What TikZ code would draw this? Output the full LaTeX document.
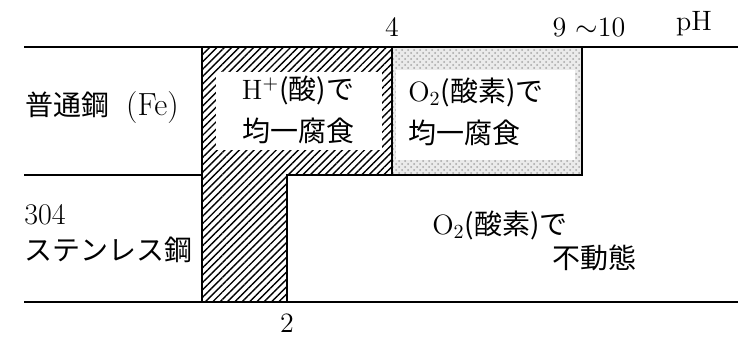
\documentclass[tikz,border=0pt]{standalone}
\usepackage{fontspec}
\newfontfamily\jp{Noto Sans CJK JP}
\usetikzlibrary{patterns,patterns.meta,positioning}

\begin{document}
\begin{tikzpicture}[x=0.5pt, y=-0.5pt,
    lbl/.style={inner sep=0pt, font=\fontsize{14}{21}\selectfont},
    jlbl/.style={lbl, font=\jp\fontsize{14}{21}\selectfont},
    hatch/.style={pattern={Lines[angle=45, distance=2.6pt, line width=0.7pt]}},
    stipple/.style={pattern=crosshatch dots, pattern color=black!35},
    rule/.style={draw=black, line width=0.8pt}
]
    \useasboundingbox (0,0) rectangle (738,338);
    % axis lines
    \coordinate (tl) at (24,47);   \coordinate (tr) at (738,47);
    \coordinate (ml) at (24,175);  \coordinate (mr) at (202,175);
    \coordinate (bl) at (24,302);  \coordinate (br) at (738,302);
    \coordinate (h1) at (202,47);  \coordinate (h2) at (202,302);
    \coordinate (h3) at (287,302); \coordinate (h4) at (287,175);
    \coordinate (h5) at (392,175); \coordinate (h6) at (392,47);
    \coordinate (d1) at (582,47);  \coordinate (d2) at (582,175);
    % regions
    \fill[hatch] (h1) -- (h6) -- (h5) -- (h4) -- (h3) -- (h2) -- cycle;
    \fill[white] (216,72) rectangle (382,150);
    \fill[black!8] (h6) rectangle (d2);
    \fill[stipple] (h6) rectangle (d2);
    \fill[white] (396,70) rectangle (575,160);
    \draw[rule] (tl) -- (tr);
    \draw[rule] (ml) -- (mr);
    \draw[rule] (bl) -- (br);
    \draw[rule] (h1) -- (h2);
    \draw[rule] (h3) -- (h4) -- (h5) -- (h6);
    \draw[rule] (d1) -- (d2) -- (h5);
    % labels
    \node[lbl] (ph4) at (392,27) {4};
    \node[lbl] (ph910) at (589,27) {9 $\sim$10};
    \node[lbl] (phlbl) at (694,24) {pH};
    \node[lbl] (ph2) at (287,323) {2};
    \node[lbl, anchor=west] (fe) at (25,108) {{\jp 普通鋼}\hspace{0.6em}{\fontsize{16}{21}\selectfont(Fe)}};
    \node[lbl, anchor=west, font=\fontsize{15}{21}\selectfont] (ss304) at (24,215) {304};
    \node[jlbl, anchor=west] (ss) at (24,250) {ステンレス鋼};
    \node[lbl, align=center] (acid) at (298,110) {H$^{+}${\jp (酸)で}\\{\jp 均一腐食}};
    \node[lbl, align=left, anchor=west] (oxy) at (408,112) {O$_2${\jp (酸素)で}\\{\jp 均一腐食}};
    \node[lbl, anchor=west] (pas) at (432,225) {O$_2${\jp (酸素)で}};
    \node[jlbl, anchor=west] (pasv) at (552,258) {不動態};
\end{tikzpicture}
\end{document}
